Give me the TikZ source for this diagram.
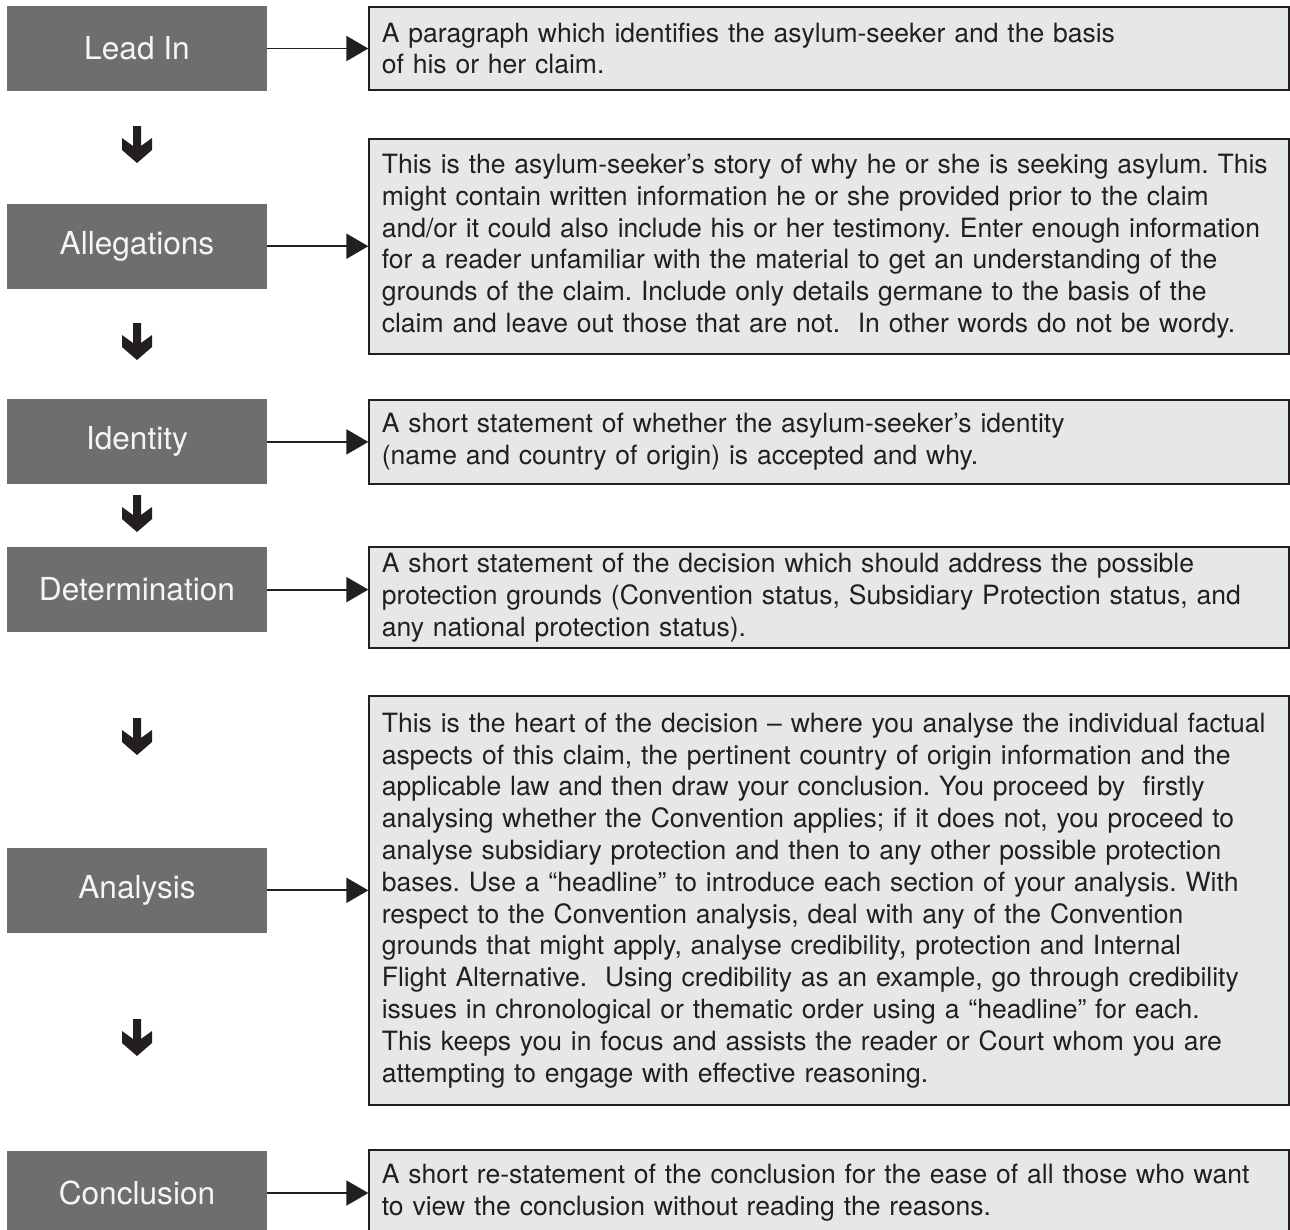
\documentclass[tikz,border=0pt]{standalone}
\usepackage{fontspec}
\setmainfont{TeX Gyre Heros}
\frenchspacing
\usetikzlibrary{
  positioning,
  calc,
  arrows.meta}
\definecolor{headcolor}{RGB}{109,110,112}
\definecolor{headtext}{RGB}{245,245,245}
\definecolor{desccolor}{RGB}{230,231,232}
\definecolor{linecolor}{RGB}{35,31,32}
\tikzset{
  connection_arrow/.style={-{Triangle[length=0.44cm, width=0.5cm]}, line width=1pt, draw=linecolor}
}
\tikzset{
  down/.pic = {
    \fill [linecolor] (-0.08, -0.74) -- (-0.08, -0.34) -- (-0.3, -0.5)
      -- (-0.3, -0.26) -- (0, 0) -- (0.3, -0.26) -- (0.3, -0.5)
      -- (0.08, -0.34) -- (0.08, -0.74) -- cycle;
  }
}
\tikzset{
  %% heading : the grey section title
  heading/.style={
    rectangle,
    fill=headcolor,
    text=headtext,
    minimum width=5.2cm,
    minimum height=1.7cm,
    inner sep=0pt,
    font=\fontsize{18}{22}\selectfont
  },
  %% desc : the text box on the right
  desc/.style={
    rectangle,
    draw=linecolor,
    line width=1.1pt,
    fill=desccolor,
    text=linecolor,
    text width=17.9cm,
    inner xsep=0.25cm,
    align=left,
    font=\fontsize{15.1}{18.1}\selectfont
  }
}

\begin{document}
\begin{tikzpicture}
  [x=1cm,
  y=-1cm]

  \useasboundingbox (0, 0) rectangle (25.8, 24.58);

  %% Sections
  \node (lead) [heading] at (2.74, 0.97) {Lead In};

  \node (alleg) [below=2.24cm of lead, heading] {Allegations};

  \node (ident) [below=2.2cm of alleg, heading] {Identity};

  \node (determ) [below=1.24cm of ident, heading] {Determination};

  \node (analysis) [below=4.3cm of determ, heading] {Analysis};

  \node (concl) [below=4.34cm of analysis, heading] {Conclusion};

  %% Descriptions
  \node (leadtext) [right=2.02cm of lead, desc, minimum height=1.66cm]{%
    A paragraph which identifies the asylum-seeker and the basis\\
    of his or her claim.
  };

  \node (allegtext) [right=2.02cm of alleg, desc, minimum height=4.3cm]{%
    This is the asylum-seeker’s story of why he or she is seeking asylum. This\\
    might contain written information he or she provided prior to the claim\\
    and/or it could also include his or her testimony. Enter enough information\\
    for a reader unfamiliar with the material to get an understanding of the\\
    grounds of the claim. Include only details germane to the basis of the\\
    claim and leave out those that are not.~ In other words do not be wordy.
  };

  \node (identtext) [right=2.02cm of ident, desc, minimum height=1.68cm]{%
    A short statement of whether the asylum-seeker’s identity\\
    (name and country of origin) is accepted and why.
  };

  \node (determtext) [right=2.02cm of determ, yshift=-0.16cm, desc, minimum height=2.02cm]{%
    A short statement of the decision which should address the possible\\
    protection grounds (Convention status, Subsidiary Protection status, and\\
    any national protection status).
  };

  \node (analysistext) [right=2.02cm of analysis, yshift=-0.2cm, desc, minimum height=8.18cm]{%
    This is the heart of the decision – where you analyse the individual factual\\
    aspects of this claim, the pertinent country of origin information and the\\
    applicable law and then draw your conclusion. You proceed by~ firstly\\
    analysing whether the Convention applies; if it does not, you proceed to\\
    analyse subsidiary protection and then to any other possible protection\\
    bases. Use a “headline” to introduce each section of your analysis. With\\
    respect to the Convention analysis, deal with any of the Convention\\
    grounds that might apply, analyse credibility, protection and Internal\\
    Flight Alternative.~ Using credibility as an example, go through credibility\\
    issues in chronological or thematic order using a “headline” for each.\\
    This keeps you in focus and assists the reader or Court whom you are\\
    attempting to engage with effective reasoning.
  };

  \node (concltext) [right=2.02cm of concl, desc, minimum height=1.72cm]{%
    A short re-statement of the conclusion for the ease of all those who want\\
    to view the conclusion without reading the reasons.
  };

  %% Connections
  \draw [connection_arrow] (lead.east) -- (lead.east -| leadtext.west);
  \draw [connection_arrow] (alleg.east) -- (alleg.east -| allegtext.west);
  \draw [connection_arrow] (ident.east) -- (ident.east -| identtext.west);
  \draw [connection_arrow] (determ.east) -- (determ.east -| determtext.west);
  \draw [connection_arrow] (analysis.east) -- (analysis.east -| analysistext.west);
  \draw [connection_arrow] (concl.east) -- (concl.east -| concltext.west);

  %% Down arrows
  \pic at (2.74, 3.26) {down};
  \pic at (2.74, 7.2) {down};
  \pic at (2.74, 10.64) {down};
  \pic at (2.74, 15.1) {down};
  \pic at (2.74, 21.12) {down};

\end{tikzpicture}
\end{document}
